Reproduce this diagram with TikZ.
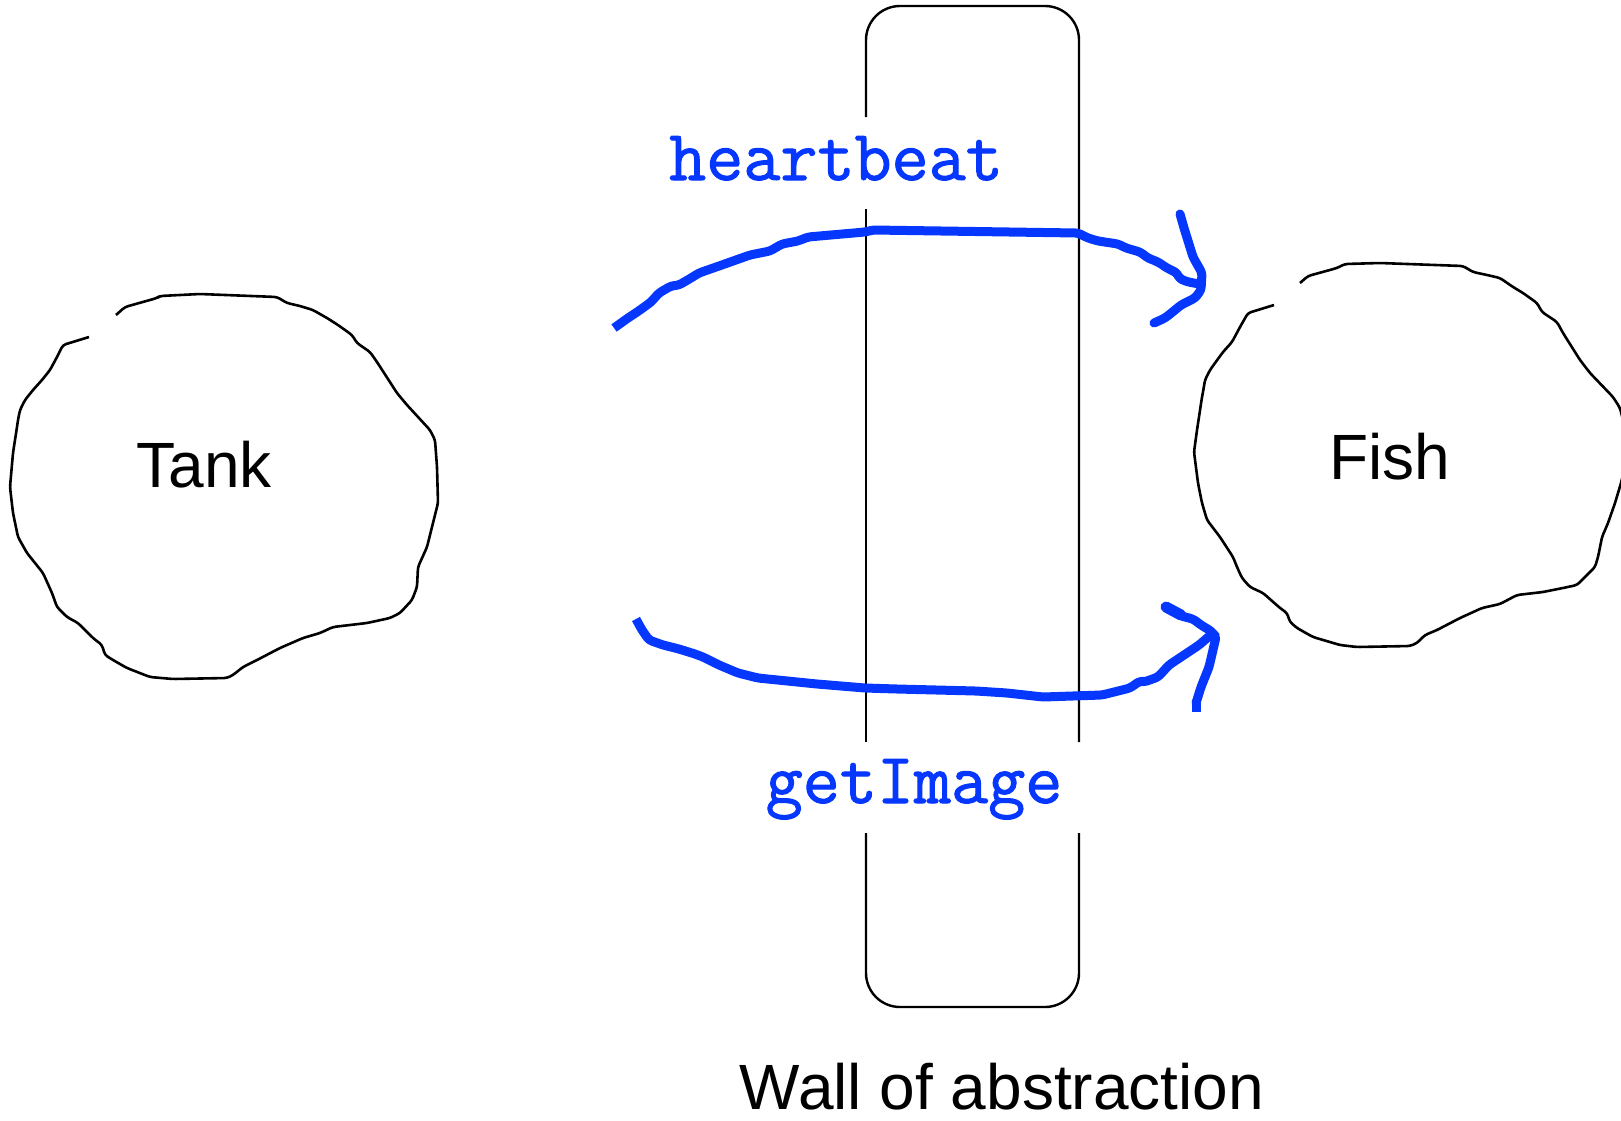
\documentclass[tikz,border=0pt]{standalone}
\usepackage{fontspec}
\setmainfont{Liberation Sans}
\newfontfamily\codefont{Latin Modern Mono}[BoldFont={Latin Modern Mono},BoldFeatures={FakeBold=1.4}]
\definecolor{inkblue}{RGB}{5,55,255}
\begin{document}
\begin{tikzpicture}[x=1pt,y=-1pt,
  blob/.style={draw=black,line width=2.6pt,line join=round,rounded corners=3pt},
  wall/.style={draw=black,line width=2.4pt},
  pen/.style={draw=inkblue,line width=9pt,line cap=round,line join=round,rounded corners=3pt},
  label/.style={font=\fontsize{64}{72}\selectfont,anchor=base,inner sep=0pt},
  call/.style={font=\codefont\bfseries\fontsize{72}{80}\selectfont,text=inkblue,anchor=base,inner sep=0pt}]
\useasboundingbox (0,0) rectangle (1621,1120);

% --- the wall between the two parties ---
\draw[wall,rounded corners=34pt] (866,117) -- (866,6) -- (1079,6) -- (1079,742);
\draw[wall] (866,209) -- (866,742);
\draw[wall,rounded corners=34pt] (866,833) -- (866,1007) -- (1079,1007) -- (1079,833);

% --- Tank outline ---
\draw[blob] (116,315) -- (125,307) -- (157,298) -- (160,296) -- (200,294) -- (277,297)
  -- (287,303) -- (300,306) -- (313,310) -- (327,318) -- (338,325) -- (352,335)
  -- (357,343) -- (370,352) -- (377,362) -- (397,393) -- (407,405) -- (430,430)
  -- (435,440) -- (437,467) -- (438,503) -- (433,523) -- (427,547) -- (418,567)
  -- (417,587) -- (412,600) -- (400,613) -- (390,618) -- (367,623) -- (333,627)
  -- (320,633) -- (303,638) -- (280,648) -- (257,660) -- (243,667) -- (233,675)
  -- (227,678) -- (173,679) -- (150,677) -- (127,668) -- (113,660) -- (105,655)
  -- (102,645) -- (93,638) -- (78,623) -- (67,617) -- (57,607) -- (52,593)
  -- (43,573) -- (27,553) -- (18,537) -- (13,513) -- (10,487) -- (13,453)
  -- (17,427) -- (18,420) -- (20,410) -- (25,400) -- (33,390) -- (42,380)
  -- (50,370) -- (57,357) -- (63,345) -- (89,337);
\node[label] (tank) at (204,487) {Tank};

% --- Fish outline ---
\begin{scope}
\clip (0,0) rectangle (1621,1120);
\draw[blob] (1300,283) -- (1308,276) -- (1337,268) -- (1345,264) -- (1380,263) -- (1463,266)
  -- (1473,272) -- (1487,275) -- (1500,278) -- (1513,287) -- (1523,293) -- (1537,303)
  -- (1542,312) -- (1557,322) -- (1563,333) -- (1580,360) -- (1590,373) -- (1613,397)
  -- (1620,408) -- (1626,432) -- (1627,458) -- (1621,483) -- (1615,503) -- (1608,523)
  -- (1602,537) -- (1598,557) -- (1595,567) -- (1577,585) -- (1563,588) -- (1543,592)
  -- (1517,595) -- (1500,604) -- (1482,608) -- (1460,618) -- (1437,630) -- (1425,635)
  -- (1417,643) -- (1410,646) -- (1357,647) -- (1340,645) -- (1313,637) -- (1297,628)
  -- (1290,622) -- (1287,613) -- (1280,608) -- (1263,593) -- (1250,587) -- (1242,578)
  -- (1237,567) -- (1233,557) -- (1220,537) -- (1207,520) -- (1202,503) -- (1198,483)
  -- (1194,452) -- (1197,430) -- (1202,397) -- (1203,392) -- (1205,380) -- (1210,370)
  -- (1215,363) -- (1223,352) -- (1232,342) -- (1240,327) -- (1248,313) -- (1274,305);
\end{scope}
\node[label] (fish) at (1390,479) {Fish};

% --- calls across the wall ---
\node[call] (hb) at (836,180) {heartbeat};
\node[call] (gi) at (914,803) {getImage};

% heartbeat: Tank -> Fish
\draw[pen,line cap=butt] (614,328) -- (628,318) -- (640,310) -- (651,302) -- (659,293)
  -- (671,286) -- (679,285) -- (691,278) -- (699,273) -- (719,266) -- (750,255)
  -- (770,251) -- (782,244) -- (798,241) -- (808,237) -- (865,232) -- (873,230)
  -- (1078,233) -- (1088,238) -- (1098,241) -- (1118,244) -- (1126,248) -- (1140,252)
  -- (1148,258) -- (1158,262) -- (1167,268) -- (1177,273) -- (1179,278) -- (1185,281)
  -- (1193,283) -- (1201,284);
\draw[pen] (1180,214) -- (1184,228) -- (1193,257) -- (1202,273) -- (1201,290)
  -- (1195,298) -- (1181,305) -- (1175,310) -- (1165,318) -- (1154,323);

% getImage: Tank -> Fish
\draw[pen,line cap=butt] (636,619) -- (642,630) -- (649,640) -- (663,645) -- (679,649)
  -- (695,654) -- (703,657) -- (719,665) -- (738,673) -- (758,678) -- (817,684)
  -- (865,688) -- (897,689) -- (976,691) -- (1007,693) -- (1043,697) -- (1102,695)
  -- (1110,693) -- (1130,688) -- (1140,681) -- (1144,682) -- (1158,677) -- (1169,665)
  -- (1181,657) -- (1199,645) -- (1213,633) -- (1216,637);
\draw[pen,line width=11pt] (1166,607) -- (1181,615);
\draw[pen] (1166,607) -- (1181,616) -- (1193,619) -- (1201,625) -- (1211,631)
  -- (1216,637) -- (1209,667) -- (1201,687) -- (1196,703);
\draw[pen,line cap=butt] (1196,703) -- (1196,712);

% --- caption ---
\node[label] (caption) at (1002,1109) {Wall of abstraction};
\end{tikzpicture}
\end{document}
